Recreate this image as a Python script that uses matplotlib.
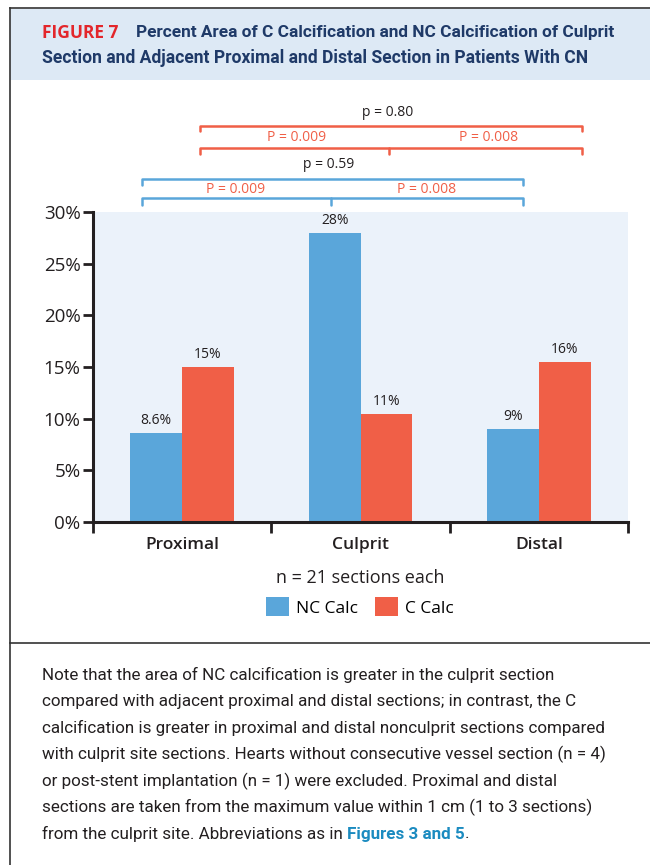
import matplotlib.pyplot as plt
import numpy as np
from matplotlib.lines import Line2D
from matplotlib.patches import Rectangle

categories = ['Proximal', 'Culprit', 'Distal']
nc_calc = [8.6, 28, 9]
c_calc = [15, 10.5, 15.5]
nc_labels = ['8.6%', '28%', '9%']
c_labels = ['15%', '11%', '16%']
yticks = [0, 5, 10, 15, 20, 25, 30]
ytick_labels = ['0%', '5%', '10%', '15%', '20%', '25%', '30%']

BLUE = '#5aa6da'
RED = '#f05f47'
DARK = '#231f20'
NAVY = '#1f3a68'

W, H = 650, 865
fig = plt.figure(figsize=(6.5, 8.65), dpi=100)
renderer = fig.canvas.get_renderer()

def fx(px):
    return px / W

def fy(py):
    return 1 - py / H

CHART = ['Open Sans', 'DejaVu Sans']
NARROW = ['Roboto', 'DejaVu Sans']

def fit_text(t, width_px):
    # shrink font so the line spans the same width as in the reference
    w = t.get_window_extent(renderer).width
    t.set_fontsize(t.get_fontsize() * width_px / w)
    return t

# frame and header band
fig.patches.append(Rectangle((fx(10), fy(80)), fx(650) - fx(10), fy(9) - fy(80),
                             transform=fig.transFigure, facecolor='#dde9f5',
                             edgecolor='none', zorder=0))
for xs, ys in [([10, 10], [8, 865]), ([10, 650], [8, 8]), ([10, 650], [643, 643])]:
    fig.add_artist(Line2D([fx(v) for v in xs], [fy(v) for v in ys], color='#333333',
                          lw=1.2, transform=fig.transFigure))

# title
fig.text(fx(42), fy(33), 'FIGURE 7', color='#e3262b', fontsize=12.5, fontweight='bold',
         family=CHART, va='center')
t = fig.text(fx(136), fy(33), 'Percent Area of C Calcification and NC Calcification of Culprit',
             color=NAVY, fontsize=13, fontweight='bold', family=NARROW, va='center')
fit_text(t, 479)
t = fig.text(fx(42), fy(58), 'Section and Adjacent Proximal and Distal Section in Patients With CN',
             color=NAVY, fontsize=13, fontweight='bold', family=NARROW, va='center')
fit_text(t, 546)

# bar chart
ax = fig.add_axes([fx(93), fy(522), fx(628) - fx(93), fy(212) - fy(522)])
ax.set_facecolor('#ebf2fa')
x = np.arange(len(categories))
bw = 0.29
b1 = ax.bar(x - bw / 2, nc_calc, bw, color=BLUE, label='NC Calc', zorder=2)
b2 = ax.bar(x + bw / 2, c_calc, bw, color=RED, label='C Calc', zorder=2)
for bars, labels in [(b1, nc_labels), (b2, c_labels)]:
    for rect, lab in zip(bars, labels):
        ax.text(rect.get_x() + rect.get_width() / 2, rect.get_height() + 0.45, lab,
                ha='center', va='bottom', fontsize=10, color=DARK, family=CHART)

ax.set_xlim(-0.5, 2.5)
ax.set_ylim(0, 30)
ax.set_yticks(yticks)
ax.set_yticklabels(ytick_labels, fontsize=13.5, color=DARK, family=CHART)
ax.set_xticks([-0.5, 0.5, 1.5, 2.5])
ax.set_xticklabels([])
ax.set_xticks(x, minor=True)
ax.set_xticklabels(categories, minor=True, fontsize=12.5, fontweight='semibold',
                   color=DARK, family=CHART)
ax.tick_params(axis='x', which='minor', length=0, pad=11)
ax.tick_params(axis='x', which='major', length=8, width=2, color=DARK)
ax.tick_params(axis='y', length=7, width=2, color=DARK, pad=2)
for s in ['top', 'right']:
    ax.spines[s].set_visible(False)
for s in ['left', 'bottom']:
    ax.spines[s].set_linewidth(2.2)
    ax.spines[s].set_color(DARK)

# significance brackets
def bracket(x0, xm, x1, y, drop, color):
    kw = dict(color=color, lw=1.8, clip_on=False, solid_capstyle='round')
    ax.plot([x0, x0, x1, x1], [y - drop, y, y, y - drop], **kw)
    if xm is not None:
        ax.plot([xm, xm], [y, y - drop], **kw)

bracket(-0.225, 0.835, 1.91, 31.35, 0.7, BLUE)
bracket(-0.225, None, 1.91, 33.2, 0.55, BLUE)
bracket(0.10, 1.16, 2.24, 36.2, 0.6, RED)
bracket(0.10, None, 2.24, 38.3, 0.5, RED)

tkw = dict(ha='center', va='center', family=CHART, clip_on=False)
ax.text(0.30, 32.2, 'P = 0.009', color=RED, fontsize=10, **tkw)
ax.text(1.37, 32.2, 'P = 0.008', color=RED, fontsize=10, **tkw)
ax.text(0.82, 34.6, 'p = 0.59', color=DARK, fontsize=10, **tkw)
ax.text(0.64, 37.2, 'P = 0.009', color=RED, fontsize=10, **tkw)
ax.text(1.72, 37.2, 'P = 0.008', color=RED, fontsize=10, **tkw)
ax.text(1.15, 39.6, 'p = 0.80', color=DARK, fontsize=10, **tkw)

fig.text(fx(360), fy(578), 'n = 21 sections each', ha='center', va='center',
         fontsize=13, color=DARK, family=CHART)
fig.legend(handles=[b1, b2], loc='center', bbox_to_anchor=(fx(360), fy(607)),
           ncol=2, frameon=False, handlelength=1.3, handleheight=1.3,
           handletextpad=0.4, columnspacing=1.0, prop={'family': CHART, 'size': 12.5})

# footnote
lines = [
    'Note that the area of NC calcification is greater in the culprit section',
    'compared with adjacent proximal and distal sections; in contrast, the C',
    'calcification is greater in proximal and distal nonculprit sections compared',
    'with culprit site sections. Hearts without consecutive vessel section (n = 4)',
    'or post-stent implantation (n = 1) were excluded. Proximal and distal',
    'sections are taken from the maximum value within 1 cm (1 to 3 sections)',
]
probe = fig.text(0, 0, lines[2], fontsize=13, family=NARROW)
fit_text(probe, 564)
fs = probe.get_fontsize()
probe.remove()

fkw = dict(fontsize=fs, color=DARK, family=NARROW, va='center')
for i, ln in enumerate(lines):
    fig.text(fx(42), fy(675 + i * 26.5), ln, **fkw)

ylast = fy(675 + 6 * 26.5)
t1 = fig.text(fx(42), ylast, 'from the culprit site. Abbreviations as in ', **fkw)
x1 = fig.transFigure.inverted().transform(t1.get_window_extent(renderer))[1][0]
t2 = fig.text(x1, ylast, 'Figures 3 and 5', fontsize=fs, color='#1b8bc0',
              fontweight='bold', family=NARROW, va='center')
x2 = fig.transFigure.inverted().transform(t2.get_window_extent(renderer))[1][0]
fig.text(x2, ylast, '.', **fkw)

fig.savefig('out.png', dpi=100)
